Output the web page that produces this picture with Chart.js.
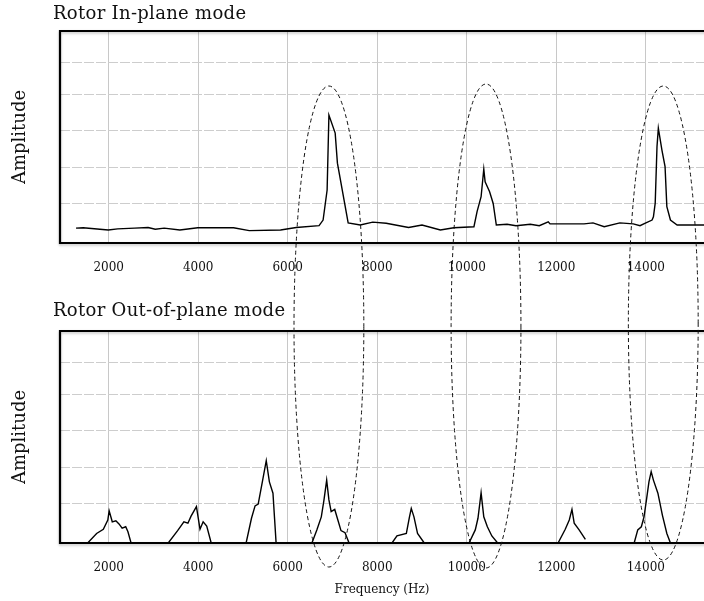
<!DOCTYPE html>
<html>
<head>
<meta charset="utf-8">
<script src="https://cdn.jsdelivr.net/npm/chart.js@4.4.0/dist/chart.umd.min.js"></script>
<style>
  html, body { margin: 0; padding: 0; background: #fff; }
  #page { position: relative; width: 704px; height: 601px; overflow: hidden; }
  .ttl { position: absolute; left: 53px; font-family: "DejaVu Serif", serif; font-size: 18px;
         letter-spacing: 0.3px; color: #111; white-space: nowrap; line-height: 20px; }
  canvas { position: absolute; left: 0; }
</style>
</head>
<body>
<div id="page">
  <canvas id="inplane" width="704" height="290" style="top:0"></canvas>
  <canvas id="outplane" width="704" height="301" style="top:300px"></canvas>
  <div class="ttl" style="top:3px">Rotor In-plane mode</div>
  <div class="ttl" style="top:300px">Rotor Out-of-plane mode</div>
  <canvas id="marks" width="704" height="601" style="top:0; pointer-events:none"></canvas>
</div>
<script>
// tick / grid values
var xTicks = [2000, 4000, 6000, 8000, 10000, 12000, 14000];
var yGrid = [1.13, 2.15, 3.17, 4.19, 5.12];

// in-plane spectrum
var inFreq = [1270, 1430, 1990, 2200, 2580, 2880, 3040, 3240, 3590, 3990,
              4790, 5140, 5840, 6190, 6700, 6790, 6880, 6920, 7060, 7110,
              7350, 7620, 7900, 8200, 8700, 9000, 9410, 9710, 10160, 10230,
              10320, 10380, 10410, 10510, 10590, 10660, 10900, 11100, 11420, 11620,
              11820, 11860, 12620, 12820, 13070, 13420, 13720, 13870, 13990, 14140,
              14170, 14210, 14250, 14280, 14360, 14430, 14470, 14550, 14700, 15500];
var inAmp = [0.42, 0.43, 0.37, 0.40, 0.42, 0.44, 0.39, 0.42, 0.37, 0.43,
             0.43, 0.35, 0.37, 0.44, 0.49, 0.65, 1.50, 3.62, 3.11, 2.26,
             0.57, 0.51, 0.59, 0.56, 0.44, 0.51, 0.37, 0.43, 0.46, 0.89,
             1.31, 2.09, 1.73, 1.45, 1.12, 0.51, 0.53, 0.49, 0.53, 0.49,
             0.60, 0.54, 0.54, 0.57, 0.46, 0.57, 0.54, 0.49, 0.56, 0.65,
             0.74, 1.13, 2.73, 3.25, 2.63, 2.16, 1.03, 0.65, 0.51, 0.51];

// out-of-plane spectrum (null = gap between bumps)
var outFreq = [1530, 1730, 1880, 1980, 2010, 2080, 2160, 2230, 2300, 2380, 2430, 2500,
               2900,
               3330, 3540, 3680, 3770, 3840, 3960, 4040, 4110, 4190, 4290,
               4700,
               5070, 5190, 5270, 5340, 5440, 5520, 5590, 5670, 5740,
               6100,
               6540, 6650, 6750, 6810, 6870, 6920, 6970, 7050, 7120, 7190, 7280, 7370,
               7900,
               8330, 8440, 8650, 8720, 8760, 8820, 8900, 9050,
               9500,
               10050, 10190, 10250, 10320, 10380, 10460, 10560, 10690,
               11300,
               12040, 12200, 12290, 12350, 12400, 12510, 12650,
               13200,
               13740, 13820, 13900, 13960, 14020, 14070, 14120, 14170, 14270, 14370, 14470, 14550];
var outAmp = [0, 0.27, 0.39, 0.65, 0.91, 0.60, 0.63, 0.54, 0.42, 0.46, 0.32, 0,
              null,
              0, 0.35, 0.60, 0.56, 0.76, 1.03, 0.39, 0.60, 0.48, 0,
              null,
              0, 0.70, 1.05, 1.10, 1.78, 2.33, 1.73, 1.41, 0,
              null,
              0, 0.37, 0.74, 1.22, 1.78, 1.22, 0.89, 0.95, 0.65, 0.35, 0.29, 0,
              null,
              0, 0.20, 0.27, 0.74, 0.98, 0.74, 0.27, 0,
              null,
              0, 0.37, 0.70, 1.42, 0.74, 0.46, 0.20, 0,
              null,
              0, 0.39, 0.65, 0.95, 0.56, 0.37, 0.10,
              null,
              0, 0.37, 0.46, 0.74, 1.27, 1.73, 2.02, 1.78, 1.41, 0.79, 0.27, 0];

// dashed rings linking the modes
var ringFreq = [6920, 10430, 14390];
var ringHalfHz = 780;
var ringTop = [86, 84, 86];
var ringBottom = [567, 568, 560];

var serif = 'DejaVu Serif';

var framePlugin = {
    id: 'frame',
    afterDraw: function(chart) {
        var ctx = chart.ctx, a = chart.chartArea;
        ctx.save();
        ctx.strokeStyle = '#000';
        ctx.lineWidth = 2.2;
        ctx.shadowColor = 'rgba(0,0,0,0.25)';
        ctx.shadowBlur = 2.5;
        ctx.shadowOffsetY = 1.5;
        ctx.beginPath();
        ctx.moveTo(a.right + 5, a.top);
        ctx.lineTo(a.left, a.top);
        ctx.lineTo(a.left, a.bottom);
        ctx.lineTo(a.right + 5, a.bottom);
        ctx.stroke();
        ctx.restore();
    }
};

function makeChart(id, freq, amp, xHeight, xTitle) {
    return new Chart(document.getElementById(id), {
        type: 'line',
        data: {
            datasets: [{
                data: freq.map(function(f, i) { return {x: f, y: amp[i]}; }),
                borderColor: '#000',
                borderWidth: 1.4,
                pointRadius: 0,
                tension: 0,
                spanGaps: false
            }]
        },
        options: {
            responsive: false,
            animation: false,
            devicePixelRatio: 1,
            layout: { padding: { top: 31, left: 0, right: 0, bottom: 0 } },
            plugins: { legend: { display: false }, tooltip: { enabled: false } },
            scales: {
                x: {
                    type: 'linear', min: 912, max: 15300,
                    afterBuildTicks: function(s) { s.ticks = xTicks.map(function(v) { return {value: v}; }); },
                    afterFit: function(s) { s.height = xHeight; },
                    grid: { color: '#c8c8c8', lineWidth: 1, drawTicks: false },
                    border: { display: false },
                    ticks: {
                        padding: 18, color: '#111', autoSkip: false, maxRotation: 0,
                        font: { family: serif, size: 12 },
                        callback: function(v) { return String(v); }
                    },
                    title: xTitle ? {
                        display: true, text: xTitle, color: '#111',
                        font: { family: serif, size: 12 }, padding: { top: 0, bottom: 4 }
                    } : { display: false }
                },
                y: {
                    min: 0, max: 6,
                    afterBuildTicks: function(s) { s.ticks = yGrid.map(function(v) { return {value: v}; }); },
                    afterFit: function(s) { s.width = 60; },
                    grid: { color: '#cdcdcd', lineWidth: 1, drawTicks: false },
                    border: { display: false, dash: [10, 2] },
                    ticks: { display: false },
                    title: {
                        display: true, text: 'Amplitude', color: '#111',
                        font: { family: serif, size: 18 }, padding: { top: 10, bottom: 0 }
                    }
                }
            }
        },
        plugins: [framePlugin]
    });
}

var inChart = makeChart('inplane', inFreq, inAmp, 47, null);
var outChart = makeChart('outplane', outFreq, outAmp, 58, 'Frequency (Hz)');

// overlay rings, placed with the shared frequency scale
var sx = outChart.scales.x;
var mctx = document.getElementById('marks').getContext('2d');
mctx.strokeStyle = '#111';
mctx.lineWidth = 1;
mctx.setLineDash([4, 3]);
ringFreq.forEach(function(f, i) {
    var cx = sx.getPixelForValue(f);
    var rx = sx.getPixelForValue(f + ringHalfHz) - cx;
    var cy = (ringTop[i] + ringBottom[i]) / 2;
    var ry = (ringBottom[i] - ringTop[i]) / 2;
    mctx.beginPath();
    mctx.ellipse(cx, cy, rx, ry, 0, 0, Math.PI * 2);
    mctx.stroke();
});
</script>
</body>
</html>
